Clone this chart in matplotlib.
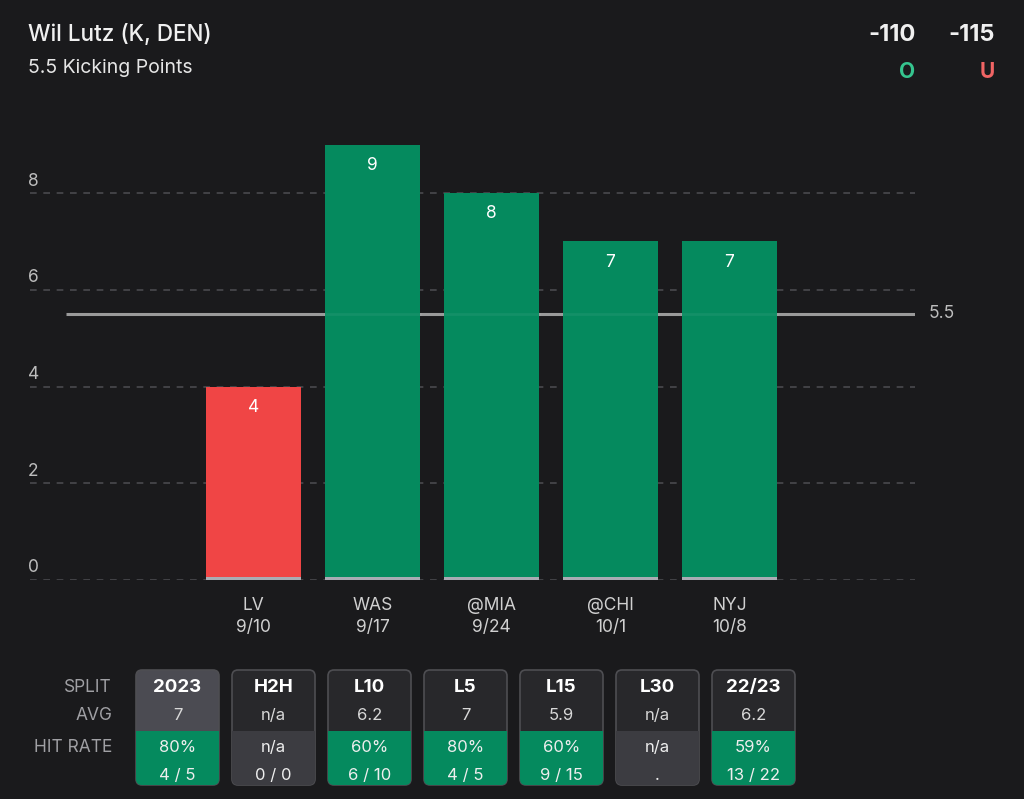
import matplotlib
matplotlib.use("Agg")
import matplotlib.pyplot as plt
from matplotlib.patches import FancyBboxPatch, Rectangle

plt.rcParams['font.family'] = ['Inter', 'DejaVu Sans']

# ---- data ----
opponents = ["LV", "WAS", "@MIA", "@CHI", "NYJ"]
dates = ["9/10", "9/17", "9/24", "10/1", "10/8"]
points = [4, 9, 8, 7, 7]
line_value = 5.5
yticks = [0, 2, 4, 6, 8]

title = "Wil Lutz (K, DEN)"
subtitle = "5.5 Kicking Points"
over_odds = "-110"
under_odds = "-115"

splits = ["2023", "H2H", "L10", "L5", "L15", "L30", "22/23"]
avgs = ["7", "n/a", "6.2", "7", "5.9", "n/a", "6.2"]
hit_pct = ["80%", "n/a", "60%", "80%", "60%", "n/a", "59%"]
hit_frac = ["4 / 5", "0 / 0", "6 / 10", "4 / 5", "9 / 15", ".", "13 / 22"]

BG = "#1a1a1c"
GREEN = "#058a5e"
RED = "#f04545"
GRID = "#4a4a4e"
TXT = "#d0d0d0"

W, H = 1024, 799
fig = plt.figure(figsize=(W / 100, H / 100), dpi=100, facecolor=BG)

# ---- main chart ----
px_left, px_right = 30, 915
px_top, px_bottom = 120, 580
ax = fig.add_axes([px_left / W, 1 - px_bottom / H, (px_right - px_left) / W, (px_bottom - px_top) / H])
ax.set_facecolor(BG)
unit = 48.375
ax.set_ylim(0, (px_bottom - px_top) / unit)
step = 119.0
x0 = 253.5
ax.set_xlim((px_left - x0) / step, (px_right - x0) / step)
for s in ax.spines.values():
    s.set_visible(False)
ax.set_xticks([])
ax.set_yticks([])

for t in yticks:
    ax.axhline(t, color=GRID, lw=1.2, ls=(0, (4, 4)), zorder=1)
    ax.annotate(str(t), xy=(0, t), xycoords=('axes fraction', 'data'),
                xytext=(-2, 12), textcoords='offset pixels',
                color="#bdbdbd", fontsize=12.5, ha='left', va='center', annotation_clip=False)

ax.hlines(line_value, (66 - x0) / step, (917 - x0) / step, color="#9a9a9a", lw=2.2, zorder=2)
ax.annotate(f"{line_value:g}", xy=((917 - x0) / step, line_value), xycoords='data',
            xytext=(12, 0), textcoords='offset pixels', color="#bdbdbd",
            fontsize=12.5, ha='left', va='center', annotation_clip=False)

xs = list(range(len(points)))
bar_w = 95 / step
colors = [GREEN if p > line_value else RED for p in points]
ax.bar(xs, points, width=bar_w, color=colors, zorder=3)
ax.bar(xs, [0.07] * len(points), width=bar_w, color="#a9acb4", zorder=4)
for x, p in zip(xs, points):
    if p > line_value:
        ax.plot([x - bar_w / 2, x + bar_w / 2], [line_value, line_value],
                color="white", alpha=0.06, lw=2, zorder=5)
    ax.annotate(str(p), xy=(x, p), xytext=(0, -21), textcoords='offset pixels',
                color="white", fontsize=12.5, ha='center', va='center', zorder=6)
    ax.annotate(opponents[x], xy=(x, 0), xytext=(0, -25), textcoords='offset pixels',
                color=TXT, fontsize=12.5, ha='center', va='center', annotation_clip=False)
    ax.annotate(dates[x], xy=(x, 0), xytext=(0, -47), textcoords='offset pixels',
                color=TXT, fontsize=12.5, ha='center', va='center', annotation_clip=False)

# ---- overlay in pixel coords ----
ov = fig.add_axes([0, 0, 1, 1], facecolor='none')
ov.set_xlim(0, W)
ov.set_ylim(H, 0)
ov.axis('off')

ov.text(28, 35, title, color="#f0f0f0", fontsize=16.2, fontweight='medium', va='center', ha='left')
ov.text(28, 68, subtitle, color="#e6e6e6", fontsize=14, va='center', ha='left')
ov.text(916, 35, over_odds, color="#f0f0f0", fontsize=17, fontweight='bold', va='center', ha='right')
ov.text(995, 35, under_odds, color="#f0f0f0", fontsize=17, fontweight='bold', va='center', ha='right')
ov.text(907, 72, "O", color="#35c48e", fontsize=15, fontweight='bold', va='center', ha='center')
ov.text(987, 72, "U", color="#f06464", fontsize=15, fontweight='bold', va='center', ha='center')

# table
row_labels = ["SPLIT", "AVG", "HIT RATE"]
row_y = [687, 716, 748]
for lab, y in zip(row_labels, row_y):
    ov.text(112, y, lab, color="#a0a0a4", fontsize=12.5, ha='right', va='center')

box_w = 83
box_top, box_mid, box_bot = 670, 731, 785
for i, sp in enumerate(splits):
    bx = 136 + i * 96
    na = hit_pct[i] == "n/a"
    top_col = "#4b4b52" if i == 0 else "#28282b"
    bot_col = "#3c3c41" if na else GREEN
    outer = FancyBboxPatch((bx, box_top), box_w, box_bot - box_top,
                           boxstyle="round,pad=0,rounding_size=6",
                           facecolor=top_col, edgecolor="#4e4e52", lw=1.2, zorder=2)
    ov.add_patch(outer)
    lower = FancyBboxPatch((bx, box_mid), box_w, box_bot - box_mid,
                           boxstyle="round,pad=0,rounding_size=6",
                           facecolor=bot_col, edgecolor='none', zorder=3)
    ov.add_patch(lower)
    ov.add_patch(Rectangle((bx, box_mid), box_w, 10, facecolor=bot_col, edgecolor='none', zorder=3))
    cx = bx + box_w / 2
    ov.text(cx, 687, sp, color="white", fontsize=13.5, fontweight='bold', ha='center', va='center', zorder=5)
    ov.text(cx, 716, avgs[i], color="#d8d8d8", fontsize=12, ha='center', va='center', zorder=5)
    ov.text(cx, 748, hit_pct[i], color="#eeeeee", fontsize=12, ha='center', va='center', zorder=5)
    ov.text(cx, 775, hit_frac[i], color="#eeeeee", fontsize=12, ha='center', va='center', zorder=5)

fig.savefig("out.png", dpi=100, facecolor=BG)
